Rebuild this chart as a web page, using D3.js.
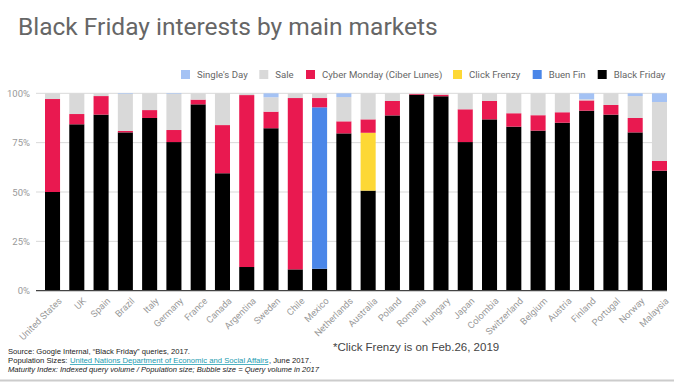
<!DOCTYPE html>
<html><head><meta charset="utf-8">
<script src="https://cdn.jsdelivr.net/npm/d3@7"></script>
<style>
html,body{margin:0;padding:0;background:#fff;}
svg{display:block;}
</style></head>
<body>
<svg id="chart" width="674" height="382"></svg>
<script>
const countries = ["United States","UK","Spain","Brazil","Italy","Germany","France","Canada","Argentina","Sweden","Chile","Mexico","Netherlands","Australia","Poland","Romania","Hungary","Japan","Colombia","Switzerland","Belgium","Austria","Finland","Portugal","Norway","Malaysia"];
const blackFriday = [50, 84.3, 89.2, 80.2, 87.5, 75.3, 94.4, 59.5, 12, 82.3, 10.8, 11.1, 79.7, 50.7, 88.8, 99.3, 98.5, 75.3, 86.8, 83.1, 81.1, 85.1, 91.2, 89.2, 80.2, 60.8];
const buenFin = [0,0,0,0,0,0,0,0,0,0,0,81.8,0,0,0,0,0,0,0,0,0,0,0,0,0,0];
const clickFrenzy = [0,0,0,0,0,0,0,0,0,0,0,0,0,29.3,0,0,0,0,0,0,0,0,0,0,0,0];
const cyberMonday = [47.1, 5.2, 9.4, 0.7, 4, 6.1, 2.4, 24.4, 87.1, 8.4, 86.8, 4.7, 6.1, 6.8, 7.3, 0.4, 0.8, 16.6, 9.3, 6.8, 7.8, 5.3, 5.2, 4.9, 7.3, 4.9];
const sale = [2.9, 10.5, 1.4, 18.8, 8.5, 18.3, 3.2, 16.1, 0.9, 7.3, 2.4, 2.4, 12.3, 13.2, 3.9, 0.3, 0.7, 8.1, 3.9, 10.1, 11.1, 9.6, 0.6, 5.9, 11.1, 29.9];
const singlesDay = [0, 0, 0, 0.3, 0, 0.3, 0, 0, 0, 2, 0, 0, 1.9, 0, 0, 0, 0, 0, 0, 0, 0, 0, 3, 0, 1.4, 4.4];
const seriesNames = ["Black Friday","Buen Fin","Click Frenzy","Cyber Monday (Ciber Lunes)","Sale","Single's Day"];
const seriesColors = ["#000000","#4a86e8","#fdd835","#e91950","#d9d9d9","#a4c2f4"];
const yTicks = [0, 25, 50, 75, 100];

const seriesVals = [blackFriday, buenFin, clickFrenzy, cyberMonday, sale, singlesDay];
const rows = countries.map((c,i)=>{
  const r = {country:c};
  seriesNames.forEach((s,j)=> r[s] = seriesVals[j][i]);
  return r;
});
const stacked = d3.stack().keys(seriesNames)(rows);

const svg = d3.select("#chart");
const plotLeft = 36, plotRight = 667, yTop = 93.3, yBottom = 290.7;

const x = d3.scaleBand().domain(countries).range([45, 667]).paddingInner(0.38).paddingOuter(0);
const y = d3.scaleLinear().domain([0,100]).range([yBottom, yTop]);

// title
svg.append("text").attr("x",18).attr("y",35)
  .attr("font-family","Roboto, sans-serif").attr("font-size",24.5).attr("fill","#666")
  .text("Black Friday interests by main markets");

// gridlines
svg.append("g").selectAll("line").data(yTicks.filter(d=>d>0)).join("line")
  .attr("x1",plotLeft).attr("x2",plotRight)
  .attr("y1",d=>y(d)).attr("y2",d=>y(d))
  .attr("stroke","#d9d9d9").attr("stroke-width",1);

// y axis labels
const yAxis = d3.axisLeft(y).tickValues(yTicks).tickFormat(d=>d+"%").tickSize(0).tickPadding(6);
const yg = svg.append("g").attr("transform",`translate(${plotLeft},0)`).call(yAxis);
yg.select(".domain").remove();
yg.selectAll("text").attr("font-family","Roboto, sans-serif").attr("font-size",9.5).attr("fill","#999");

// bars
svg.append("g").selectAll("g").data(stacked).join("g")
  .attr("fill",(d,i)=>seriesColors[i])
  .selectAll("rect").data(d=>d).join("rect")
  .attr("x",d=>x(d.data.country))
  .attr("width",x.bandwidth())
  .attr("y",d=>y(d[1]))
  .attr("height",d=>Math.max(0,y(d[0])-y(d[1])));

// x axis
const xAxis = d3.axisBottom(x).tickSize(0).tickPadding(5);
const xg = svg.append("g").attr("transform",`translate(0,${yBottom})`).call(xAxis);
xg.select(".domain").remove();
svg.append("line").attr("x1",plotLeft).attr("x2",plotRight).attr("y1",yBottom).attr("y2",yBottom)
  .attr("stroke","#444").attr("stroke-width",1.2);
xg.selectAll("text")
  .attr("font-family","Roboto, sans-serif").attr("font-size",9.3).attr("fill","#999")
  .attr("text-anchor","end").attr("dy","0.35em")
  .attr("transform","translate(4,5) rotate(-45)");

// legend
const legendOrder = [5,4,3,2,1,0];
const legendX = [181, 259.3, 306, 453, 532.7, 597.7];
const lg = svg.append("g");
legendOrder.forEach((si,k)=>{
  lg.append("rect").attr("x",legendX[k]).attr("y",70).attr("width",9).attr("height",9).attr("fill",seriesColors[si]);
  lg.append("text").attr("x",legendX[k]+16).attr("y",78.3)
    .attr("font-family","Roboto, sans-serif").attr("font-size",9.6).attr("fill","#666")
    .text(seriesNames[si]);
});

// note
svg.append("text").attr("x",333).attr("y",351)
  .attr("font-family","Liberation Sans, Arial, sans-serif").attr("font-size",11.5).attr("fill","#444")
  .text("*Click Frenzy is on Feb.26, 2019");

// footer
const f = svg.append("g").attr("font-family","Liberation Sans, Arial, sans-serif").attr("font-size",7.7).attr("fill","#222");
f.append("text").attr("x",8).attr("y",354).attr("textLength",182).attr("lengthAdjust","spacingAndGlyphs")
  .text("Source: Google Internal, \u201CBlack Friday\u201D queries, 2017.");
const p1 = f.append("text").attr("x",8).attr("y",363).text("Population Sizes:");
let cx = 8 + p1.node().getComputedTextLength() + 2.5;
const p2 = f.append("text").attr("x",cx).attr("y",363)
  .attr("fill","#1a9bb0").attr("text-decoration","underline")
  .text("United Nations Department of Economic and Social Affairs");
cx += p2.node().getComputedTextLength() + 0.5;
f.append("text").attr("x",cx).attr("y",363).text(", June 2017.");
f.append("text").attr("x",8).attr("y",372).attr("font-style","italic").attr("textLength",311).attr("lengthAdjust","spacingAndGlyphs")
  .text("Maturity Index: Indexed query volume / Population size; Bubble size = Query volume in 2017");

// bottom rule
svg.append("line").attr("x1",0).attr("x2",674).attr("y1",380.5).attr("y2",380.5).attr("stroke","#ccc").attr("stroke-width",2);
</script>
</body></html>
